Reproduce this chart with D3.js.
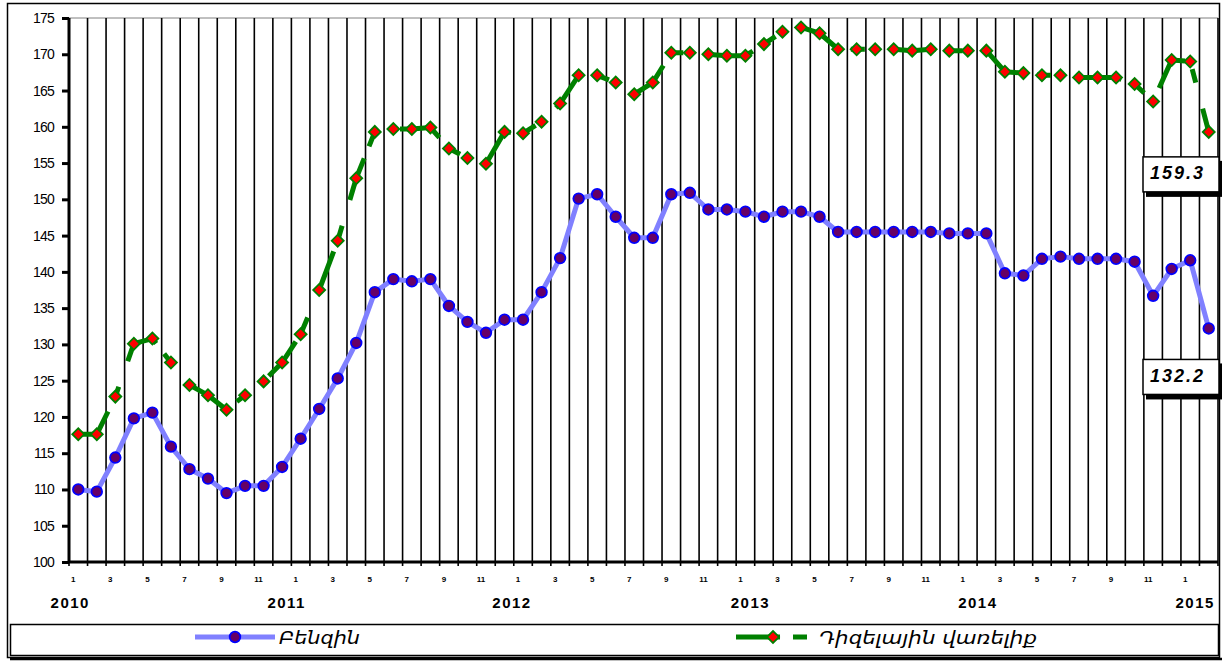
<!DOCTYPE html>
<html>
<head>
<meta charset="utf-8">
<script src="https://cdn.jsdelivr.net/npm/d3@7"></script>
<style>
  html, body { margin: 0; padding: 0; background: #fff; }
  svg { display: block; }
</style>
</head>
<body>
<svg id="chart" width="1223" height="662"></svg>
<script>
// ---------- DATA ----------
const seriesNames = ["Բենզին", "Դիզելային վառելիք"];
const months = [1,2,3,4,5,6,7,8,9,10,11,12, 1,2,3,4,5,6,7,8,9,10,11,12,
                1,2,3,4,5,6,7,8,9,10,11,12, 1,2,3,4,5,6,7,8,9,10,11,12,
                1,2,3,4,5,6,7,8,9,10,11,12, 1,2];
const years = ["2010", "2011", "2012", "2013", "2014", "2015"];
const benzin = [110.0,109.7,114.4,119.8,120.6,115.9,112.8,111.5,109.5,110.5,
                110.5,113.1,117.0,121.1,125.3,130.2,137.2,139.0,138.7,139.0,
                135.3,133.1,131.6,133.4,133.4,137.2,141.9,150.1,150.7,147.6,
                144.7,144.7,150.7,150.9,148.6,148.6,148.3,147.6,148.3,148.3,
                147.6,145.5,145.5,145.5,145.5,145.5,145.5,145.3,145.3,145.3,
                139.8,139.5,141.8,142.1,141.8,141.8,141.8,141.4,136.7,140.4,
                141.6,132.2];
const diesel = [117.6,117.6,122.8,130.1,130.8,127.5,124.4,123.0,121.0,123.0,
                124.9,127.5,131.4,137.5,144.3,152.9,159.3,159.7,159.7,159.9,
                157.0,155.7,154.9,159.3,159.1,160.7,163.2,167.1,167.1,166.1,
                164.5,166.1,170.2,170.2,170.0,169.8,169.8,171.4,173.1,173.7,
                172.9,170.7,170.7,170.7,170.7,170.5,170.7,170.5,170.5,170.5,
                167.6,167.4,167.1,167.1,166.8,166.8,166.8,165.9,163.5,169.2,
                169.0,159.3];
const yTicks = [100,105,110,115,120,125,130,135,140,145,150,155,160,165,170,175];

// ---------- LAYOUT ----------
const L = 69, R = 1218, T = 18, B = 562;
const yearDx = [-8, -14, -11, 5, 10, 5];
const svg = d3.select("#chart");

const x = d3.scaleBand().domain(d3.range(months.length)).range([L, R]).padding(0);
const cx = i => x(i) + x.bandwidth() / 2;
const y = d3.scaleLinear().domain([100, 175]).range([B, T]);

// outer frame
svg.append("rect").attr("x", 7.5).attr("y", 3.5).attr("width", 1212).attr("height", 654)
  .attr("fill", "none").attr("stroke", "#000").attr("stroke-width", 1.5);

// top gridline
svg.append("line").attr("x1", L).attr("x2", R).attr("y1", y(175)).attr("y2", y(175))
  .attr("stroke", "#808080").attr("stroke-width", 1);

// vertical gridlines at category boundaries
const bounds = d3.range(months.length + 1).map(i => i < months.length ? x(i) : R);
svg.append("g").selectAll("line").data(bounds).join("line")
  .attr("x1", d => d).attr("x2", d => d).attr("y1", T).attr("y2", B + 4)
  .attr("stroke", "#000").attr("stroke-width", 1.6);

// y axis
const yAxis = svg.append("g").attr("transform", `translate(${L},0)`)
  .call(d3.axisLeft(y).tickValues(yTicks).tickSize(7).tickPadding(8).tickFormat(d3.format("d")));
yAxis.select(".domain").attr("stroke-width", 3).attr("d", `M0,${T}V${B}`);
yAxis.selectAll(".tick line").attr("stroke-width", 3);
yAxis.selectAll("text").attr("font-family", "'Liberation Sans', Arial, sans-serif")
  .attr("font-size", 14).attr("letter-spacing", "-0.8px").attr("fill", "#000");

// x axis baseline
svg.append("line").attr("x1", L).attr("x2", R).attr("y1", B).attr("y2", B)
  .attr("stroke", "#000").attr("stroke-width", 3);

// month labels
svg.append("g").selectAll("text").data(months.map((m, i) => ({m, i})).filter(d => d.m % 2 === 1))
  .join("text")
  .attr("x", d => cx(d.i) - 5).attr("y", 582)
  .attr("text-anchor", "middle")
  .attr("font-family", "'Liberation Sans', Arial, sans-serif")
  .attr("font-size", 8).attr("font-weight", "bold")
  .text(d => d.m);

// year labels
const janIdx = months.map((m, i) => m === 1 ? i : -1).filter(i => i >= 0);
svg.append("g").selectAll("text").data(years).join("text")
  .attr("x", (d, k) => cx(janIdx[k]) + yearDx[k]).attr("y", 608)
  .attr("text-anchor", "middle")
  .attr("font-family", "'Liberation Sans', Arial, sans-serif")
  .attr("font-size", 15).attr("font-weight", "bold").attr("letter-spacing", "1.5px")
  .text(d => d);

// ---------- SERIES ----------
const line = d3.line().x((d, i) => cx(i)).y(d => y(d));
const dieselDash = "44,13,14,27";

svg.append("path").datum(benzin).attr("d", line)
  .attr("fill", "none").attr("stroke", "#8080ff").attr("stroke-width", 5)
  .attr("stroke-linejoin", "round");
svg.append("path").datum(diesel).attr("d", line)
  .attr("fill", "none").attr("stroke", "#008000").attr("stroke-width", 5)
  .attr("stroke-dasharray", dieselDash).attr("stroke-linejoin", "round");

const diamond = d3.symbol().type(d3.symbolSquare).size(72);

function circles(g, data, px, py) {
  g.selectAll("circle").data(data).join("circle")
    .attr("cx", (d, i) => px(d, i)).attr("cy", (d, i) => py(d, i)).attr("r", 5.3)
    .attr("fill", "#660066").attr("stroke", "#0000ff").attr("stroke-width", 1.8);
}
function diamonds(g, data, px, py) {
  g.selectAll("path").data(data).join("path")
    .attr("d", diamond())
    .attr("transform", (d, i) => `translate(${px(d, i)},${py(d, i)}) rotate(45)`)
    .attr("fill", "#ff0000").attr("stroke", "#008000").attr("stroke-width", 1.8);
}
circles(svg.append("g"), benzin, (d, i) => cx(i), d => y(d));
diamonds(svg.append("g"), diesel, (d, i) => cx(i), d => y(d));

// ---------- LAST VALUE LABELS ----------
const lastIdx = months.length - 1;
const labels = [
  {v: diesel[lastIdx], top: y(diesel[lastIdx]) + 25},
  {v: benzin[lastIdx], top: y(benzin[lastIdx]) + 31}
];
labels.forEach(lb => {
  const g = svg.append("g");
  g.append("rect").attr("x", 1146).attr("y", lb.top + 4).attr("width", 76).attr("height", 36)
    .attr("fill", "#000");
  g.append("rect").attr("x", 1143).attr("y", lb.top).attr("width", 76).attr("height", 35)
    .attr("fill", "#fff").attr("stroke", "#000").attr("stroke-width", 1.5);
  g.append("text").attr("x", 1150).attr("y", lb.top + 22.5)
    .attr("font-family", "'Liberation Sans', Arial, sans-serif")
    .attr("font-size", 18).attr("font-weight", "bold").attr("font-style", "italic")
    .attr("letter-spacing", "2px")
    .text(d3.format(".1f")(lb.v));
});

// ---------- LEGEND ----------
svg.append("line").attr("x1", 10).attr("x2", 1222).attr("y1", 659).attr("y2", 659)
  .attr("stroke", "#000").attr("stroke-width", 2.5);
svg.append("rect").attr("x", 10.5).attr("y", 624.5).attr("width", 1208).attr("height", 31)
  .attr("fill", "#fff").attr("stroke", "#000").attr("stroke-width", 1.5);

const ly = 637;
const lg = svg.append("g");
lg.append("line").attr("x1", 195).attr("x2", 275).attr("y1", ly).attr("y2", ly)
  .attr("stroke", "#8080ff").attr("stroke-width", 5);
circles(lg.append("g"), [benzin[0]], () => 235, () => ly);
lg.append("text").attr("x", 279).attr("y", 644)
  .attr("font-family", "'DejaVu Sans', sans-serif").attr("font-style", "italic")
  .attr("font-size", 18).attr("textLength", 81).attr("lengthAdjust", "spacingAndGlyphs")
  .text(seriesNames[0]);

lg.append("line").attr("x1", 736).attr("x2", 810).attr("y1", ly).attr("y2", ly)
  .attr("stroke", "#008000").attr("stroke-width", 5).attr("stroke-dasharray", dieselDash);
diamonds(lg.append("g"), [diesel[0]], () => 773, () => ly);
lg.append("text").attr("x", 819).attr("y", 644)
  .attr("font-family", "'DejaVu Sans', sans-serif").attr("font-style", "italic")
  .attr("font-size", 18).attr("textLength", 218).attr("lengthAdjust", "spacingAndGlyphs")
  .text(seriesNames[1]);
</script>
</body>
</html>
